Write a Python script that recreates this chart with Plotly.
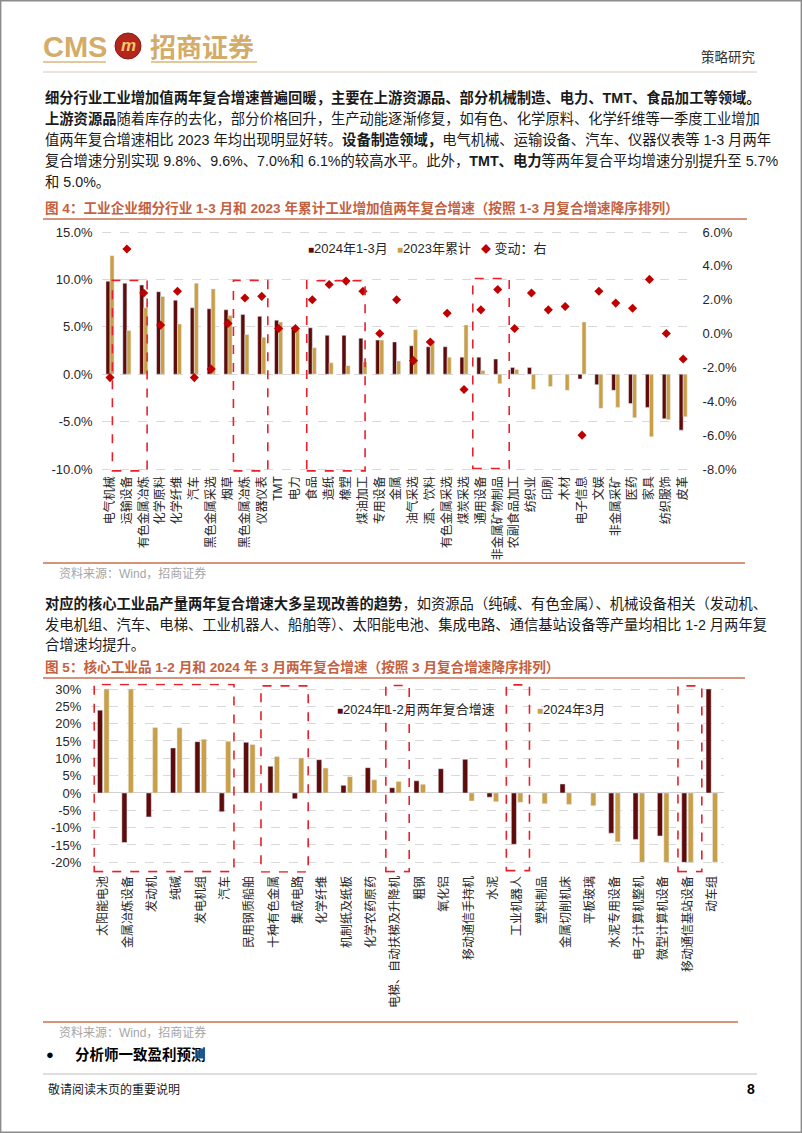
import plotly.graph_objects as go

W, H = 802, 1133
def px(x): return x / W
def py(y): return 1 - y / H

DARK = "#5E0B0B"
GOLD = "#C9A048"
RED = "#C00000"
TITLE_C = "#C4613F"
LINE_C = "#C9704F"
BOX_C = "#E8202A"
FONT = "Liberation Sans, Noto Sans CJK SC, sans-serif"

# ---------------- Chart 1 data ----------------
ind_names = ["电气机械", "运输设备", "有色金属冶炼", "化学原料", "化学纤维", "汽车", "黑色金属采选", "烟草",
             "黑色金属冶炼", "仪器仪表", "TMT", "电力", "食品", "造纸", "橡塑", "煤油加工", "专用设备", "金属",
             "油气采选", "酒、饮料", "有色金属采选", "煤炭采选", "通用设备", "非金属矿物制品", "农副食品加工",
             "纺织业", "印刷", "木材", "电子信息", "文娱", "非金属采矿", "医药", "家具", "纺织服饰", "皮革"]
ind_q1 = [9.8, 9.6, 9.4, 8.7, 7.8, 7.0, 6.9, 6.8, 6.3, 6.1, 5.7, 5.0, 4.9, 4.1, 4.1, 3.8, 3.6, 3.4,
          3.0, 2.9, 2.9, 1.8, 1.8, 1.6, 0.7, 0.7, 0.0, 0.0, -0.5, -1.1, -1.7, -3.1, -3.5, -4.7, -5.9]
ind_2023 = [12.5, 4.6, 7.0, 8.2, 5.3, 9.6, 9.0, 6.2, 4.2, 3.9, 5.5, 4.7, 2.8, 1.2, 0.9, 1.3, 3.6, 1.4,
            4.7, 3.5, 1.8, 5.2, 0.4, -1.0, 0.5, -1.6, -1.3, -1.7, 5.5, -3.6, -3.5, -4.6, -6.6, -4.8, -4.5]
ind_chg = [-2.6, 5.0, 2.4, 0.5, 2.5, -2.6, -2.1, 0.6, 2.1, 2.2, 0.3, 0.3, 2.0, 2.9, 3.1, 2.5, 0.0, 2.0,
           -1.6, -0.5, 1.2, -3.3, 1.4, 2.6, 0.3, 2.4, 1.4, 1.6, -6.0, 2.5, 1.8, 1.5, 3.2, 0.0, -1.5]
left_ticks1 = [-10, -5, 0, 5, 10, 15]
right_ticks1 = [-8, -6, -4, -2, 0, 2, 4, 6]
boxes1 = [(0.14, 2.2, -10.2, 9.9), (7.32, 9.36, -10.2, 9.9), (11.67, 15.13, -10.2, 9.85), (21.52, 23.68, -9.95, 10.1)]

# ---------------- Chart 2 data ----------------
prod_names = ["太阳能电池", "金属冶炼设备", "发动机", "纯碱", "发电机组", "汽车", "民用钢质船舶", "十种有色金属",
              "集成电路", "化学纤维", "机制纸及纸板", "化学农药原药", "电梯、自动扶梯及升降机", "粗钢", "氧化铝",
              "移动通信手持机", "水泥", "工业机器人", "塑料制品", "金属切削机床", "平板玻璃", "水泥专用设备",
              "电子计算机整机", "微型计算机设备", "移动通信基站设备", "动车组"]
prod_jf = [23.9, -14.3, -6.9, 13.0, 14.8, -5.4, 14.6, 7.7, -1.7, 9.6, 2.2, 7.3, 1.5, 3.5, 7.0,
           9.7, -1.2, -14.8, 0.0, 2.6, 0.1, -11.6, -13.4, -12.4, -20.0, 30.0]
prod_mar = [30.0, 30.0, 18.9, 18.8, 15.5, 14.9, 14.0, 10.5, 10.1, 7.2, 4.7, 3.8, 3.3, 2.5, -0.1,
            -2.3, -2.5, -2.7, -3.1, -3.3, -3.7, -14.1, -20.0, -20.0, -20.0, -20.0]
ticks2 = [-20, -15, -10, -5, 0, 5, 10, 15, 20, 25, 30]
boxes2 = [(-0.38, 5.36, -22.7, 31.3), (6.47, 8.41, -22.8, 30.9), (11.6, 12.56, -22.7, 31.0),
          (16.55, 17.5, -22.4, 31.2), (23.6, 24.58, -22.7, 30.9)]

x1 = list(range(len(ind_names)))
x2 = list(range(len(prod_names)))

fig = go.Figure()
fig.add_trace(go.Bar(x=x1, y=ind_q1, name="2024年1-3月", marker_color=DARK, width=0.24, offset=-0.24,
                     xaxis="x", yaxis="y", showlegend=False))
fig.add_trace(go.Bar(x=x1, y=ind_2023, name="2023年累计", marker_color=GOLD, width=0.24, offset=0.0,
                     xaxis="x", yaxis="y", showlegend=False))
fig.add_trace(go.Scatter(x=x1, y=ind_chg, name="变动：右", mode="markers",
                         marker=dict(symbol="diamond", size=7, color=RED), xaxis="x", yaxis="y2", showlegend=False))
fig.add_trace(go.Bar(x=x2, y=prod_jf, name="2024年1-2月两年复合增速", marker_color=DARK, width=0.21, offset=-0.245,
                     xaxis="x2", yaxis="y3", showlegend=False))
fig.add_trace(go.Bar(x=x2, y=prod_mar, name="2024年3月", marker_color=GOLD, width=0.21, offset=0.02,
                     xaxis="x2", yaxis="y3", showlegend=False))

tickfont = dict(family=FONT, size=13, color="#262626")
xtickfont = dict(family=FONT, size=12, color="#262626")

fig.update_layout(
    width=W, height=H, autosize=False,
    margin=dict(l=0, r=0, t=0, b=0, pad=0),
    paper_bgcolor="white", plot_bgcolor="white",
    font=dict(family=FONT, color="#1a1a1a"),
    barmode="group",
    xaxis=dict(domain=[px(101.6), px(691.6)], anchor="y", range=[-0.5, 34.5], automargin=False,
               tickmode="array", tickvals=x1, ticktext=ind_names, tickangle=-90,
               tickfont=xtickfont, showgrid=False, zeroline=False, showline=False, ticks=""),
    yaxis=dict(domain=[py(472.8), py(230.1)], anchor="x", range=[-10.4, 15.2], automargin=False,
               tickmode="array", tickvals=left_ticks1, ticktext=[f"{v:.1f}%" for v in left_ticks1],
               tickfont=tickfont, showgrid=True, gridcolor="#D9D9D9", griddash="dash", gridwidth=1,
               zeroline=False, showline=False, ticks="", ticklabelstandoff=8),
    yaxis2=dict(overlaying="y", side="right", anchor="x", range=[-8.224, 6.112], automargin=False,
                tickmode="array", tickvals=right_ticks1, ticktext=[f"{v:.1f}%" for v in right_ticks1],
                tickfont=tickfont, showgrid=False, zeroline=False, showline=False, ticks="",
                ticklabelstandoff=10),
    xaxis2=dict(domain=[px(91.3), px(724.2)], anchor="y3", range=[-0.5, 25.5], automargin=False,
                tickmode="array", tickvals=x2, ticktext=prod_names, tickangle=-90,
                tickfont=xtickfont, showgrid=False, zeroline=False, showline=False, ticks=""),
    yaxis3=dict(domain=[py(872.7), py(683.45)], anchor="x2", range=[-23.0, 31.6], automargin=False,
                tickmode="array", tickvals=ticks2, ticktext=[f"{v}%" for v in ticks2],
                tickfont=tickfont, showgrid=True, gridcolor="#D9D9D9", griddash="dash", gridwidth=1,
                zeroline=True, zerolinecolor="#D0D0D0", zerolinewidth=1,
                showline=False, ticks="", ticklabelstandoff=9),
)

shapes = []
for (a, b, c, d) in boxes1:
    shapes.append(dict(type="rect", xref="x", yref="y", x0=a, x1=b, y0=c, y1=d,
                       line=dict(color=BOX_C, width=1.6, dash="dash"), fillcolor="rgba(0,0,0,0)"))
for (a, b, c, d) in boxes2:
    shapes.append(dict(type="rect", xref="x2", yref="y3", x0=a, x1=b, y0=c, y1=d,
                       line=dict(color=BOX_C, width=1.6, dash="dash"), fillcolor="rgba(0,0,0,0)"))

def hline(x0, x1, y, color, width=1.0):
    shapes.append(dict(type="line", xref="paper", yref="paper", x0=px(x0), x1=px(x1), y0=py(y), y1=py(y),
                       line=dict(color=color, width=width)))

# page frame
shapes.append(dict(type="rect", xref="paper", yref="paper", x0=px(0.7), x1=px(801.3), y0=py(1132.3), y1=py(0.7),
                   line=dict(color="#8C8C8C", width=1.4)))
# header
hline(43, 106, 62, "#D9B77A", 1.5)
hline(151, 257, 62, "#D9B77A", 1.5)
hline(43, 757, 72, "#DCC6B8", 1.0)
# chart lines
hline(43, 747, 219, LINE_C, 1.5)
hline(43, 745, 563, LINE_C, 1.5)
hline(43, 745, 678, LINE_C, 1.5)
hline(43, 738, 1022, LINE_C, 1.5)
hline(43, 757, 1074, "#D3D3D3", 1.5)
# logo circle
shapes.append(dict(type="circle", xref="paper", yref="paper", x0=px(115), x1=px(141), y0=py(59), y1=py(33),
                   fillcolor="#B3261E", line=dict(color="#8E1A14", width=1)))
fig.update_layout(shapes=shapes)

ann = []
def text(x, y, s, size=14.3, color="#1a1a1a", xanchor="left", bold=False, family=FONT):
    ann.append(dict(xref="paper", yref="paper", x=px(x), y=py(y), xanchor=xanchor, yanchor="middle",
                    text=(f"<b>{s}</b>" if bold else s), showarrow=False,
                    font=dict(size=size, color=color, family=family)))

# header texts
text(41, 47, "CMS", size=29, color="#D2AC68", bold=True)
text(128, 46, "<i>m</i>", size=17, color="#F2C76A", xanchor="center", bold=True)
text(148, 46, "招商证券", size=26, color="#D2AC68", bold=True, family="Noto Sans CJK SC")
text(757, 57, "策略研究", size=13.5, color="#333333", xanchor="right")

# paragraph 1
p1 = [
    "<b>细分行业工业增加值两年复合增速普遍回暖，主要在上游资源品、部分机械制造、电力、TMT、食品加工等领域。</b>",
    "<b>上游资源品</b>随着库存的去化，部分价格回升，生产动能逐渐修复，如有色、化学原料、化学纤维等一季度工业增加",
    "值两年复合增速相比 2023 年均出现明显好转。<b>设备制造领域，</b>电气机械、运输设备、汽车、仪器仪表等 1-3 月两年",
    "复合增速分别实现 9.8%、9.6%、7.0%和 6.1%的较高水平。此外，<b>TMT、电力</b>等两年复合平均增速分别提升至 5.7%",
    "和 5.0%。",
]
for s, y in zip(p1, [98, 119, 140, 161, 182]):
    text(43, y, s)

# chart titles
text(43, 208, "图 4：工业企业细分行业 1-3 月和 2023 年累计工业增加值两年复合增速（按照 1-3 月复合增速降序排列）",
     size=13.6, color=TITLE_C, bold=True)
text(43, 667, "图 5：核心工业品 1-2 月和 2024 年 3 月两年复合增速（按照 3 月复合增速降序排列）",
     size=13.6, color=TITLE_C, bold=True)

# legends
leg = 13
text(306, 249, f"<span style='color:{DARK};font-size:10px'>■</span>2024年1-3月", size=leg, color="#262626")
text(395, 249, f"<span style='color:{GOLD};font-size:10px'>■</span>2023年累计", size=leg, color="#262626")
text(479, 249, f"<span style='color:{RED};font-size:10px'>◆</span> 变动：右", size=leg, color="#262626")
text(335, 709, f"<span style='color:{DARK};font-size:10px'>■</span>2024年1-2月两年复合增速", size=leg, color="#262626")
text(535, 709, f"<span style='color:{GOLD};font-size:10px'>■</span>2024年3月", size=leg, color="#262626")

# sources
text(57, 573, "资料来源：Wind，招商证券", size=12, color="#A6A6A6")
text(57, 1032, "资料来源：Wind，招商证券", size=12, color="#A6A6A6")

# paragraph 2
p2 = [
    "<b>对应的核心工业品产量两年复合增速大多呈现改善的趋势</b>，如资源品（纯碱、有色金属）、机械设备相关（发动机、",
    "发电机组、汽车、电梯、工业机器人、船舶等）、太阳能电池、集成电路、通信基站设备等产量均相比 1-2 月两年复",
    "合增速均提升。",
]
for s, y in zip(p2, [603, 624, 645]):
    text(43, y, s)

# bottom
text(44, 1054, "●", size=13, color="#000000")
text(73, 1054, "分析师一致盈利预测", size=14.5, color="#000000", bold=True)
text(46, 1089, "敬请阅读末页的重要说明", size=12, color="#1a1a1a")
text(757, 1089, "8", size=14, color="#000000", xanchor="right", bold=True)

fig.update_layout(annotations=ann)
fig.write_html("out.html",
               config={"displayModeBar": False},
               post_script="document.body.style.margin='0';document.body.style.overflow='hidden';")
